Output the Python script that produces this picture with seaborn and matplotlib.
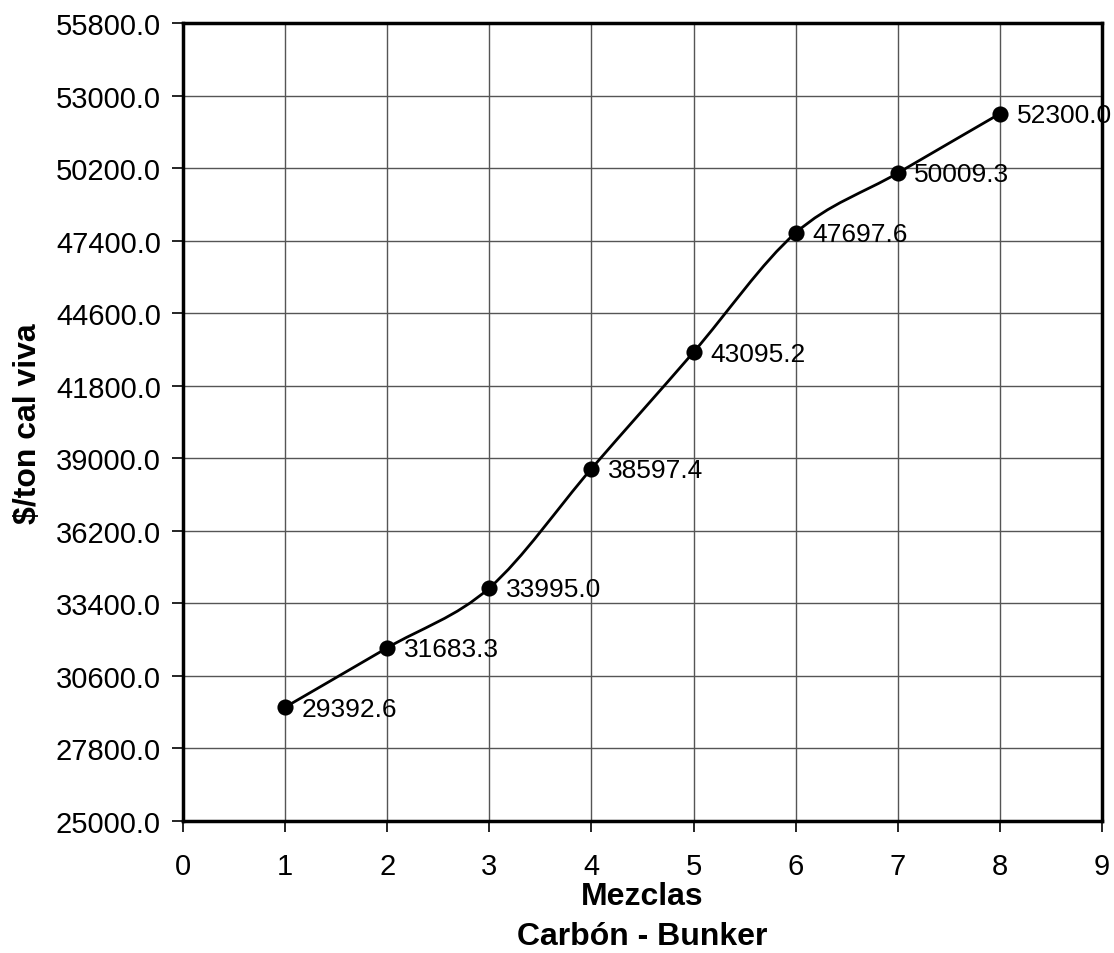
import numpy as np
import pandas as pd
import matplotlib
matplotlib.use("Agg")
import matplotlib.pyplot as plt
from matplotlib.path import Path
from matplotlib.patches import PathPatch
import seaborn as sns

mezclas = [1, 2, 3, 4, 5, 6, 7, 8]
costos = [29392.6, 31683.3, 33995.0, 38597.4, 43095.2, 47697.6, 50009.3, 52300.0]
y_ticks = [25000, 27800, 30600, 33400, 36200, 39000, 41800, 44600, 47400, 50200, 53000, 55800]
x_ticks = [0, 1, 2, 3, 4, 5, 6, 7, 8, 9]
x_title = "Mezclas"
x_subtitle = "Carbón - Bunker"
y_title = "$/ton cal viva"

sns.set_theme(style="white")
plt.rcParams['font.family'] = ['Liberation Sans', 'DejaVu Sans']

W, H = 1114, 954
fig = plt.figure(figsize=(W/100, H/100), dpi=100)
ax = fig.add_axes([183/W, 1-822/H, (1102-183)/W, (822-24)/H])

df = pd.DataFrame({"Mezcla": mezclas, "Costo": costos})

# smooth (Excel-like) line via cubic Bezier segments
P = np.column_stack([df["Mezcla"].values, df["Costo"].values]).astype(float)
ext = np.vstack([P[0], P, P[-1]])
verts = [tuple(P[0])]
codes = [Path.MOVETO]
for i in range(len(P) - 1):
    p0, p1, p2, p3 = ext[i], ext[i+1], ext[i+2], ext[i+3]
    c1 = p1 + (p2 - p0) / 6.0
    c2 = p2 - (p3 - p1) / 6.0
    verts += [tuple(c1), tuple(c2), tuple(p2)]
    codes += [Path.CURVE4] * 3
ax.add_patch(PathPatch(Path(verts, codes), fill=False, edgecolor="black", lw=2.0, zorder=3))

sns.scatterplot(data=df, x="Mezcla", y="Costo", ax=ax, color="black", s=135,
                edgecolor="black", linewidth=0, zorder=4, legend=False)

for xv, yv in zip(mezclas, costos):
    ax.annotate(f"{yv:.1f}", (xv, yv), xytext=(12, -1), textcoords="offset points",
                ha="left", va="center", fontsize=19, color="black", zorder=5,
                annotation_clip=False)

ax.set_xlim(0, 9)
ax.set_ylim(25000, 55800)
ax.set_xticks(x_ticks)
ax.set_yticks(y_ticks)
ax.set_yticklabels([f"{v:.1f}" for v in y_ticks])
ax.set_xlabel("")
ax.set_ylabel("")
ax.tick_params(axis="both", labelsize=21, colors="black", direction="out",
               length=8, width=1.2, left=True, bottom=True)
ax.tick_params(axis="y", pad=8)
ax.tick_params(axis="x", pad=14)
ax.grid(True, color="#555555", linewidth=1.0)
ax.set_axisbelow(True)
for s in ax.spines.values():
    s.set_visible(True)
    s.set_color("black")
    s.set_linewidth(2.5)

fig.text(642/W, 1-897/H, x_title, fontsize=23, fontweight="bold",
         ha="center", va="center", color="black")
fig.text(642/W, 1-937/H, x_subtitle, fontsize=23, fontweight="bold",
         ha="center", va="center", color="black")
fig.text(28/W, 1-424/H, y_title, fontsize=23, fontweight="bold", rotation=90,
         ha="center", va="center", color="black")

fig.savefig("out.png", dpi=100, facecolor="white")
